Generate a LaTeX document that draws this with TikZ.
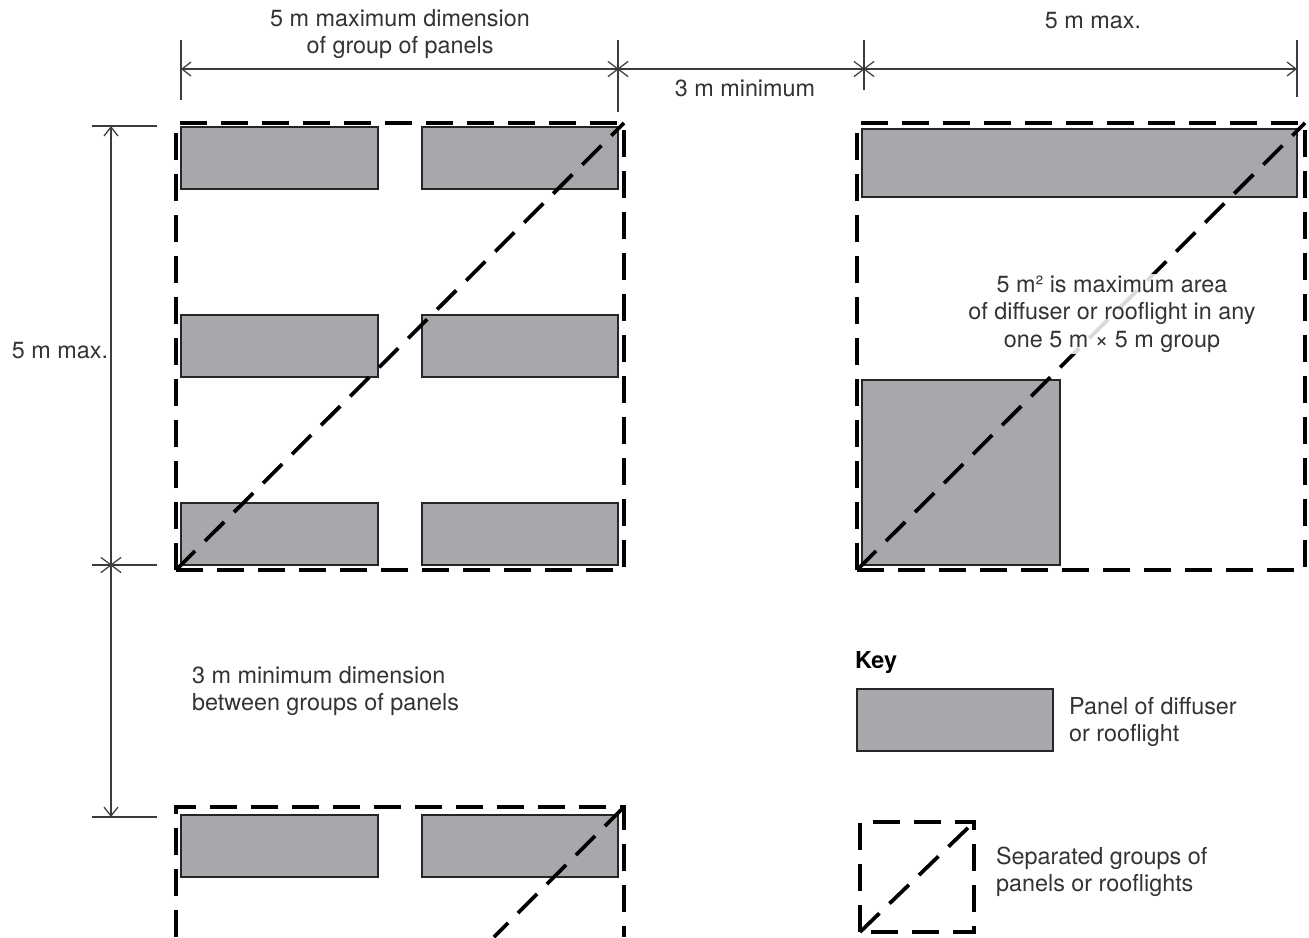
\documentclass[tikz,border=0pt]{standalone}
\usepackage{fontspec}
\setmainfont{TeX Gyre Heros}
\usetikzlibrary{arrows.meta,shapes.misc}

\definecolor{panelgrey}{HTML}{A7A8AB}
\definecolor{dimgrey}{HTML}{3C3C3C}
\definecolor{textgrey}{HTML}{333333}

\tikzset{
  dimline/.style={line width=0.025cm, draw=dimgrey},
  dimarrow/.style={dimline, -{Straight Barb[length=0.18cm,width=0.28cm]}},
  grpline/.style={line width=0.075cm, dash pattern=on 0.54cm off 0.28cm},
  panel/.style={draw=black!85, line width=0.03cm, fill=panelgrey},
  tick/.style={cross out, draw=dimgrey, line width=0.025cm, minimum width=0.38cm,
    minimum height=0.28cm, inner sep=0pt},
  lbl/.style={text=textgrey, font=\fontsize{13.3}{15.7}\selectfont, align=center, inner sep=1pt},
}

\begin{document}
\begin{tikzpicture}[x=0.02cm, y=-0.02cm]
  \useasboundingbox (0,0) rectangle (1309,937);

  % Left upper group: panels
  \draw [panel] (181,127) rectangle (378,189);
  \draw [panel] (422,127) rectangle (618,189);
  \draw [panel] (181,315) rectangle (378,377);
  \draw [panel] (422,315) rectangle (618,377);
  \draw [panel] (181,503) rectangle (378,565);
  \draw [panel] (422,503) rectangle (618,565);

  % Left upper group: outline and diagonal
  \draw [grpline] (176,570) -- (176,123) -- (624,123) -- (624,570) -- cycle;
  \draw [grpline] (176,570) -- (624,123);

  % Left lower group (cut by the page edge)
  \draw [panel] (181,815) rectangle (378,877);
  \draw [panel] (422,815) rectangle (618,877);
  \draw [grpline] (176,937) -- (176,807) -- (624,807) -- (624,937);
  \draw [grpline] (624,807) -- (494,937);

  % Right group: panels
  \draw [panel] (862,129) rectangle (1297,197);
  \draw [panel] (862,380) rectangle (1060,565);

  % Right group: outline and diagonal
  \draw [grpline] (857,570) -- (857,123) -- (1305,123) -- (1305,570) -- cycle;
  \draw [grpline] (857,570) -- (1305,123);

  % Extension lines
  \draw [dimline] (181,40) -- (181,100);
  \draw [dimline] (618,40) -- (618,112);
  \draw [dimline] (864,40) -- (864,90);
  \draw [dimline] (1297,40) -- (1297,97);
  \draw [dimline] (92,126) -- (157,126);
  \draw [dimline] (92,565) -- (157,565);
  \draw [dimline] (92,817) -- (157,817);

  % Dimension points
  \coordinate (tl) at (181,69);
  \node [tick] (tm) at (618,69) {};
  \node [tick] (tn) at (864,69) {};
  \coordinate (tr) at (1297,69);
  \coordinate (vt) at (111,126);
  \node [tick] (vm) at (111,565) {};
  \coordinate (vb) at (111,817);

  % Dimension lines
  \draw [dimarrow] (tm.center) -- (tl);
  \draw [dimline] (tm.center) -- (tn.center);
  \draw [dimarrow] (tn.center) -- (tr);
  \draw [dimarrow] (vm.center) -- (vt);
  \draw [dimarrow] (vm.center) -- (vb);

  % Labels
  \node [lbl] (wgrp) at (400,34) {5 m maximum dimension\\of group of panels};
  \node [lbl] (wsep) at (745,88) {3 m minimum};
  \node [lbl] (wmax) at (1093,21) {5 m max.};
  \node [lbl] (hmax) at (60,351) {5 m max.};
  \node [lbl, align=left, anchor=west] (hsep) at (190,691) {3 m minimum dimension\\between groups of panels};
  \node [lbl, fill=white, fill opacity=0.85, text opacity=1] (area) at (1112,314)
    {5 m² is maximum area\\of diffuser or rooflight in any\\one 5 m × 5 m group};

  % Key
  \node [lbl, anchor=west, font=\fontsize{13.3}{15.7}\selectfont\bfseries, text=black] (key) at (853,663) {Key};
  \draw [panel] (857,689) rectangle (1053,751);
  \node [lbl, align=left, anchor=west] (kpanel) at (1067,722) {Panel of diffuser\\or rooflight};
  \draw [grpline] (860,932) -- (860,822) -- (974,822) -- (974,932) -- cycle;
  \draw [grpline] (860,932) -- (974,822);
  \node [lbl, align=left, anchor=west] (kgroup) at (994,872) {Separated groups of\\panels or rooflights};
\end{tikzpicture}
\end{document}
